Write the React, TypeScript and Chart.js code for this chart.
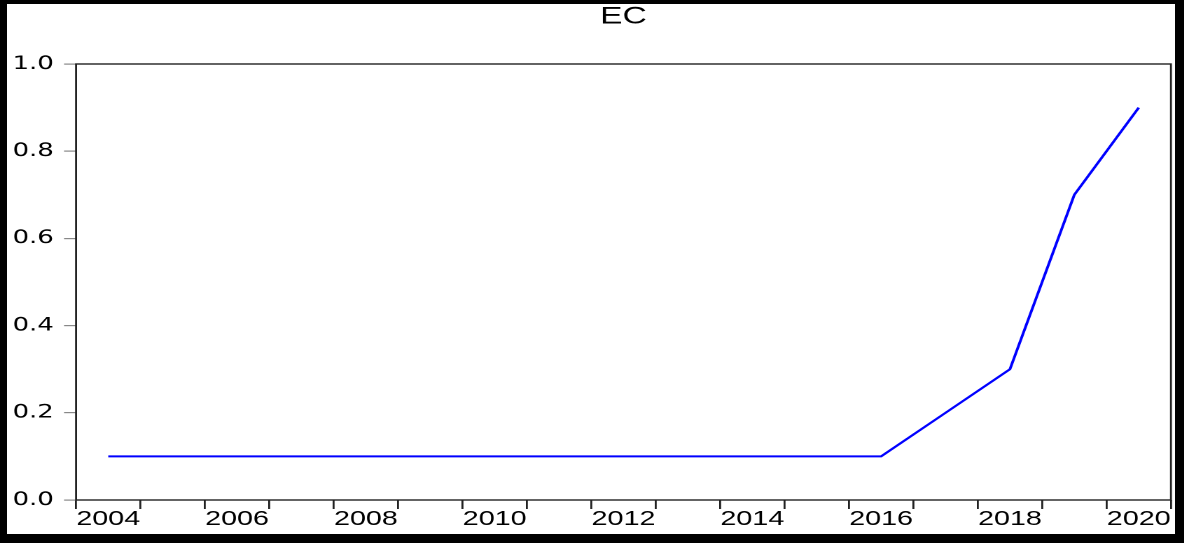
import React, { useEffect, useRef } from "react";
import { Chart, registerables } from "chart.js";

Chart.register(...registerables);

const TITLE = "EC";
const years: string[] = [
  "2004", "2005", "2006", "2007", "2008", "2009", "2010", "2011", "2012",
  "2013", "2014", "2015", "2016", "2017", "2018", "2019", "2020",
];
const ecValues: number[] = [
  0.1, 0.1, 0.1, 0.1, 0.1, 0.1, 0.1, 0.1, 0.1,
  0.1, 0.1, 0.1, 0.1, 0.2, 0.3, 0.7, 0.9,
];
const yTicks: number[] = [0.0, 0.2, 0.4, 0.6, 0.8, 1.0];

// logical canvas size; the canvas is stretched horizontally to match the reference
const LOGICAL_W = 834;
const LOGICAL_H = 530;
const STRETCH = 1168 / LOGICAL_W;

const framePlugin = {
  id: "frame",
  afterDatasetsDraw(chart: any) {
    const { ctx, chartArea } = chart;
    ctx.save();
    ctx.strokeStyle = "#222";
    ctx.lineWidth = 1.4;
    ctx.strokeRect(
      chartArea.left,
      chartArea.top,
      chartArea.right - chartArea.left,
      chartArea.bottom - chartArea.top
    );
    ctx.restore();
  },
};

export default function App() {
  const canvasRef = useRef<HTMLCanvasElement | null>(null);

  useEffect(() => {
    if (!canvasRef.current) return;
    const chart = new Chart(canvasRef.current, {
      type: "line",
      data: {
        labels: years,
        datasets: [
          {
            label: TITLE,
            data: ecValues,
            borderColor: "#0000ff",
            backgroundColor: "#0000ff",
            borderWidth: 2,
            pointRadius: 0,
            tension: 0,
            fill: false,
          },
        ],
      },
      options: {
        animation: false,
        responsive: false,
        devicePixelRatio: 2,
        layout: { padding: { left: 4, right: 2.9, top: 0, bottom: 0 } },
        plugins: {
          legend: { display: false },
          tooltip: { enabled: false },
          title: {
            display: true,
            text: TITLE,
            fullSize: false,
            color: "#000",
            font: { family: "'Liberation Sans', Arial, sans-serif", size: 24, weight: "normal", lineHeight: 1 },
            padding: { top: 1, bottom: 35 },
          },
        },
        scales: {
          x: {
            type: "category",
            offset: true,
            grid: {
              offset: true,
              drawOnChartArea: false,
              drawTicks: true,
              tickLength: 9,
              color: "#222",
              lineWidth: 1.4,
            },
            border: { display: false },
            ticks: {
              autoSkip: false,
              maxRotation: 0,
              minRotation: 0,
              padding: 0,
              color: "#000",
              font: { family: "'Liberation Sans', Arial, sans-serif", size: 20.5, lineHeight: 1 },
              callback: (_v: any, i: number) => (parseInt(years[i], 10) % 2 === 0 ? years[i] : ""),
            },
            afterFit: (scale: any) => {
              scale.height = 34;
            },
          },
          y: {
            min: 0,
            max: 1,
            afterBuildTicks: (scale: any) => {
              scale.ticks = yTicks.map((v) => ({ value: v }));
            },
            grid: {
              drawOnChartArea: false,
              drawTicks: true,
              tickLength: 8.6,
              color: "#888",
              lineWidth: 1.2,
            },
            border: { display: false },
            ticks: {
              crossAlign: "far",
              padding: 0,
              color: "#000",
              font: { family: "'DejaVu Sans', sans-serif", size: 18.5 },
              callback: (v: any) => Number(v).toFixed(1),
            },
            afterFit: (scale: any) => {
              scale.width = 45.3;
            },
          },
        },
      },
      plugins: [framePlugin],
    });
    return () => chart.destroy();
  }, []);

  return (
    <div
      style={{
        position: "fixed",
        left: 0,
        top: 0,
        width: 1184,
        height: 543,
        boxSizing: "border-box",
        borderStyle: "solid",
        borderColor: "#000",
        borderLeftWidth: 7,
        borderTopWidth: 4,
        borderRightWidth: 9,
        borderBottomWidth: 9,
        background: "#fff",
        overflow: "hidden",
      }}
    >
      <div
        style={{
          width: LOGICAL_W,
          height: LOGICAL_H,
          transform: `scaleX(${STRETCH})`,
          transformOrigin: "0 0",
        }}
      >
        <canvas
          ref={canvasRef}
          width={LOGICAL_W}
          height={LOGICAL_H}
          style={{ display: "block", width: LOGICAL_W, height: LOGICAL_H }}
        />
      </div>
    </div>
  );
}
